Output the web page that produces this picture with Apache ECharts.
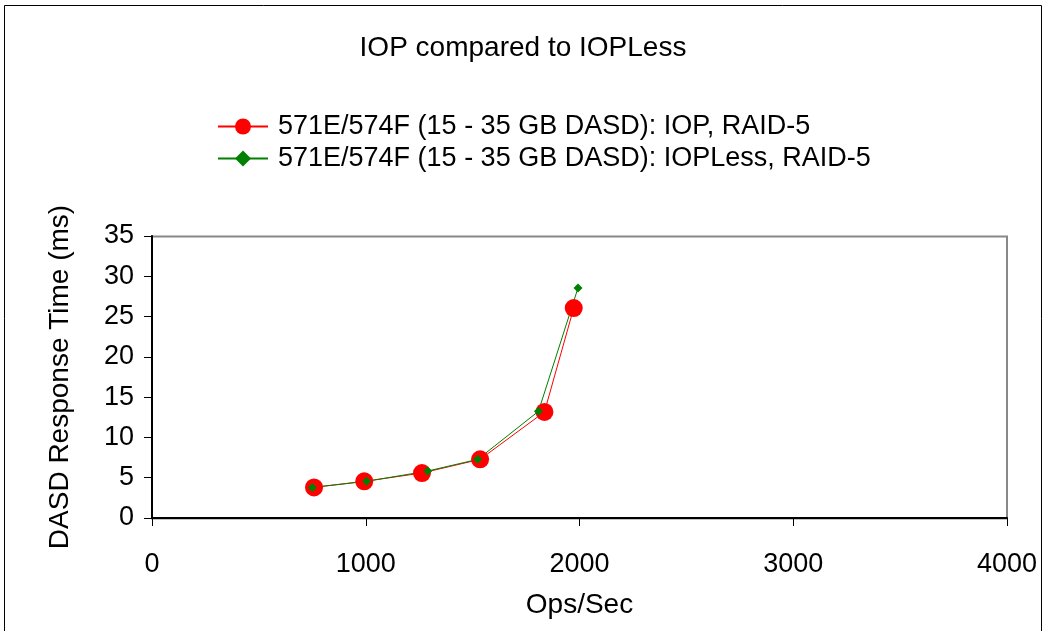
<!DOCTYPE html>
<html><head><meta charset="utf-8">
<script src="https://cdn.jsdelivr.net/npm/echarts@6/dist/echarts.min.js"></script>
<style>html,body{margin:0;padding:0;background:#fff}#c{width:1046px;height:631px}</style>
</head><body><div id="c"></div>
<script>
const seriesNames = ['571E/574F (15 - 35 GB DASD): IOP, RAID-5', '571E/574F (15 - 35 GB DASD): IOPLess, RAID-5'];
const iopX = [758, 993, 1263, 1535, 1836, 1973];
const iopY = [3.8, 4.55, 5.58, 7.28, 13.16, 26.06];
const iopLessX = [750, 1004, 1290, 1524, 1808, 1993];
const iopLessY = [3.8, 4.55, 5.83, 7.28, 13.24, 28.55];
const xTicks = [0, 1000, 2000, 3000, 4000];
const yTicks = [0, 5, 10, 15, 20, 25, 30, 35];

const font = 'Liberation Sans, Arial, sans-serif';
const chart = echarts.init(document.getElementById('c'));
chart.setOption({
  animation: false,
  backgroundColor: '#fff',
  graphic: [{type:'rect', shape:{x:4.5,y:5.5,width:1037,height:640}, style:{fill:'none',stroke:'#000',lineWidth:1}},
            {type:'rect', shape:{x:152,y:236.5,width:855,height:282}, style:{fill:'none',stroke:'#888',lineWidth:2}, z:-1}],
  title: {text:'IOP compared to IOPLess', left:'center', top:29, textStyle:{fontFamily:font,fontSize:28,fontWeight:'normal',color:'#000'}},
  legend: {orient:'vertical', left:212, top:106, itemWidth:50, itemHeight:20, itemGap:1,
    textStyle:{fontFamily:font,fontSize:27,color:'#000',lineHeight:31,padding:[0,0,0,5]}, data: seriesNames},
  grid: {left:152, right:39, top:236, bottom:113, containLabel:false},
  xAxis: {type:'value', min:xTicks[0], max:xTicks[xTicks.length-1], interval:1000,
    name:'Ops/Sec', nameLocation:'middle', nameGap:73, nameTextStyle:{fontFamily:font,fontSize:28,color:'#000'},
    axisLine:{lineStyle:{color:'#000',width:2}}, axisTick:{show:true,inside:false,length:8,lineStyle:{color:'#000'}},
    axisLabel:{fontFamily:font,fontSize:27,color:'#000',margin:33,formatter:v=>String(v)}, splitLine:{show:false}},
  yAxis: {type:'value', min:yTicks[0], max:yTicks[yTicks.length-1], interval:5,
    name:'DASD Response Time (ms)', nameLocation:'middle', nameGap:78, nameTextStyle:{fontFamily:font,fontSize:28,color:'#000'},
    axisLine:{show:true,lineStyle:{color:'#000',width:2}}, axisTick:{show:true,length:8,lineStyle:{color:'#000'}},
    axisLabel:{fontFamily:font,fontSize:27,color:'#000',margin:18}, splitLine:{show:false}},
  series: [
    {name:seriesNames[0], type:'line', data: iopX.map((x,i)=>[x,iopY[i]]), symbol:'circle', symbolSize:18,
      itemStyle:{color:'#ff0000'}, lineStyle:{color:'#ff0000',width:1}},
    {name:seriesNames[1], type:'line', data: iopLessX.map((x,i)=>[x,iopLessY[i]]), symbol:'diamond', symbolSize:9,
      itemStyle:{color:'#008000'}, lineStyle:{color:'#008000',width:1}}
  ]
});
</script></body></html>
